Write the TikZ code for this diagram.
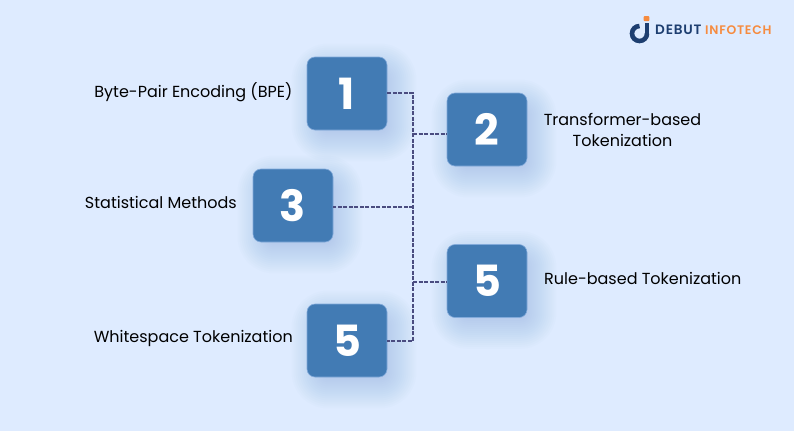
\documentclass[tikz,border=0pt]{standalone}
\usepackage{fontspec}
\setmainfont{Poppins}
\usetikzlibrary{backgrounds}
\definecolor{pageBg}{HTML}{DEEBFF}
\definecolor{boxFill}{HTML}{427BB4}
\definecolor{boxEdge}{HTML}{82AADA}
\definecolor{shadowCol}{HTML}{7FA3D6}
\definecolor{lineCol}{HTML}{4A4C80}
\definecolor{logoNavy}{HTML}{1D3E70}
\definecolor{logoOrange}{HTML}{F68B3F}
\newfontfamily\logofont[LetterSpace=6]{Poppins SemiBold}
\tikzstyle{numBox} = [rectangle, rounded corners=8pt, minimum width=80pt, minimum height=73pt, fill=boxFill, draw=boxEdge, line width=.6pt, text=white, font=\fontsize{43}{43}\selectfont\bfseries, node distance=36pt]
\tikzstyle{stepText} = [inner sep=0pt, text=black, align=center, font=\fontsize{16}{21.5}\selectfont]
\tikzstyle{dashLine} = [draw=lineCol, line width=1.4pt, dash pattern=on 4pt off 1.5pt]
\tikzstyle{softShadow} = [fill=shadowCol, fill opacity=.026]
\begin{document}
\begin{tikzpicture}[x=1pt,y=1pt]
	\useasboundingbox (0,0) rectangle (794,-431);
	% boxes
	\node [numBox](b1) at (347,-93.5){1};
	\node [numBox,below of=b1,xshift=140pt](b2){2};
	\node [numBox,below of=b1,xshift=-54pt,yshift=-76pt](b3){3};
	\node [numBox,below of=b2,yshift=-115.5pt](b4){5};
	\node [numBox,below of=b3,xshift=54pt,yshift=-99pt](b5){5};
	% page and shadows go behind the boxes
	\begin{scope}[on background layer]
		\fill[pageBg] (0,0) rectangle (794,-431);
		\foreach \b in {b1,b2,b3,b4,b5}
			\foreach \r in {-8,-6,...,22}
				\fill[softShadow,rounded corners={(14+\r)*1pt}] ([shift={(7pt-\r pt,-9pt-\r pt)}]\b.south west) rectangle ([shift={(7pt+\r pt,-9pt+\r pt)}]\b.north east);
	\end{scope}
	% labels
	\node [stepText,anchor=east](t1) at (292.5,-92.5){Byte-Pair Encoding (BPE)};
	\node [stepText](t2) at (622.5,-130){Transformer-based\\Tokenization};
	\node [stepText,anchor=east](t3) at (237,-202.5){Statistical Methods};
	\node [stepText,anchor=west](t4) at (544,-278.5){Rule-based Tokenization};
	\node [stepText,anchor=east](t5) at (293,-338){Whitespace Tokenization};
	% connectors
	\coordinate (top) at (413,-93);
	\coordinate (bottom) at (413,-341);
	\coordinate (j2) at (413,-134);
	\coordinate (j3) at (413,-207);
	\coordinate (j4) at (413,-282);
	\draw [dashLine] (b1.east |- top) -- (top) -- (bottom) -- (b5.east |- bottom);
	\draw [dashLine] (j2) -- (b2.west |- j2);
	\draw [dashLine] (j3) -- (b3.east |- j3);
	\draw [dashLine] (j4) -- (b4.west |- j4);
	% logo
	\draw [logoNavy,line width=4.6pt] (647,-33.5) arc (0:-270:7.5);
	\draw [logoNavy,line width=4pt] (647,-23) -- (647,-33.5);
	\fill [logoOrange,rounded corners=1pt] (643.5,-16) rectangle (649.3,-21.2);
	\node [inner sep=0pt,anchor=west,text=logoNavy,font=\fontsize{13.6}{13.6}\logofont](logoA) at (655,-30){DEBUT};
	\node [inner sep=0pt,anchor=west,text=logoOrange,font=\fontsize{12.4}{12.4}\logofont](logoB) at (705,-30){INFOTECH};
\end{tikzpicture}
\end{document}
